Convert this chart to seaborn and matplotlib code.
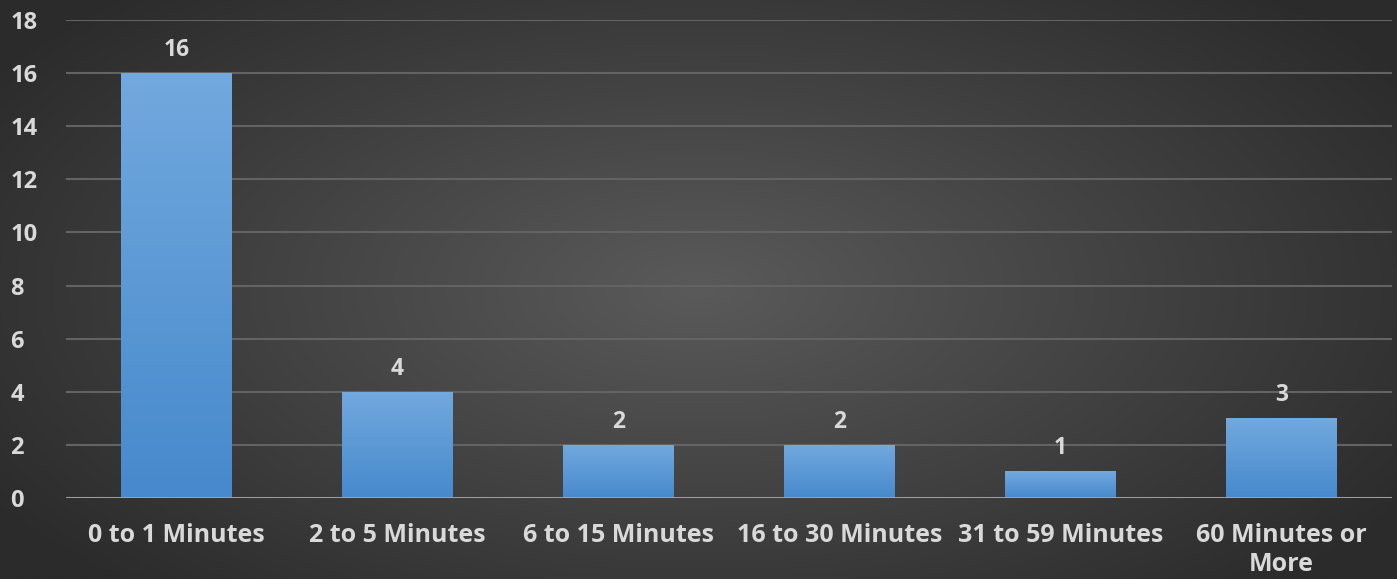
import matplotlib.pyplot as plt
import seaborn as sns
import numpy as np
import pandas as pd
from matplotlib.colors import LinearSegmentedColormap

categories = ['0 to 1 Minutes', '2 to 5 Minutes', '6 to 15 Minutes',
              '16 to 30 Minutes', '31 to 59 Minutes', '60 Minutes or\nMore']
counts = [16, 4, 2, 2, 1, 3]
y_ticks = [0, 2, 4, 6, 8, 10, 12, 14, 16, 18]

TEXT = '#d9d9d9'
GRID = '#636363'

df = pd.DataFrame({'category': categories, 'count': counts})

sns.set_theme(style='dark')
plt.rcParams['font.family'] = ['Open Sans', 'DejaVu Sans']

fig = plt.figure(figsize=(13.97, 5.79), dpi=100)

# radial dark background
bg = fig.add_axes([0, 0, 1, 1], zorder=0)
yy, xx = np.mgrid[-1:1:300j, -1:1:600j]
r = np.sqrt((xx / 1.1) ** 2 + (yy / 1.3) ** 2)
bg_cmap = LinearSegmentedColormap.from_list('bg', ['#5a5a5a', '#2b2b2b'])
bg.imshow(r, cmap=bg_cmap, aspect='auto', extent=[0, 1, 0, 1], vmin=0, vmax=1.1)
bg.set_axis_off()

ax = fig.add_axes([0.0472, 0.1399, 0.949, 0.8256], zorder=1)
ax.set_facecolor('none')

sns.barplot(data=df, x='category', y='count', color='#5b9bd5',
            width=0.5, saturation=1, linewidth=0, ax=ax, zorder=3)

# vertical gradient inside each bar
bar_cmap = LinearSegmentedColormap.from_list('bar', ['#4689cc', '#72a9de'])
grad = np.linspace(0, 1, 256).reshape(-1, 1)
for p in ax.patches:
    x0, y0 = p.get_x(), p.get_y()
    w, h = p.get_width(), p.get_height()
    im = ax.imshow(grad, cmap=bar_cmap, origin='lower', aspect='auto',
                   extent=[x0, x0 + w, y0, y0 + h], zorder=4)
    im.set_clip_path(p)
    ax.annotate(f'{int(h)}', (x0 + w / 2, y0 + h), xytext=(0, 8),
                textcoords='offset points', ha='center', va='bottom',
                color=TEXT, fontsize=16.5, fontweight='bold', zorder=5)

ax.set_xlim(-0.5, len(categories) - 0.5)
ax.set_ylim(0, 18)
ax.set_yticks(y_ticks)
ax.yaxis.grid(True, color=GRID, linewidth=1.5, zorder=1)
ax.xaxis.grid(False)
ax.axhline(0, color='#a6a6a6', linewidth=2, zorder=6)
for s in ax.spines.values():
    s.set_visible(False)
ax.tick_params(axis='both', length=0, colors=TEXT)
ax.tick_params(axis='x', pad=18, labelsize=18)
ax.tick_params(axis='y', pad=40, labelsize=17)
for lab in ax.get_xticklabels() + ax.get_yticklabels():
    lab.set_fontweight('bold')
for lab in ax.get_xticklabels():
    lab.set_linespacing(1.2)
for lab in ax.get_yticklabels():
    lab.set_horizontalalignment('left')
ax.set_xlabel('')
ax.set_ylabel('')

fig.savefig('out.png', dpi=100)
